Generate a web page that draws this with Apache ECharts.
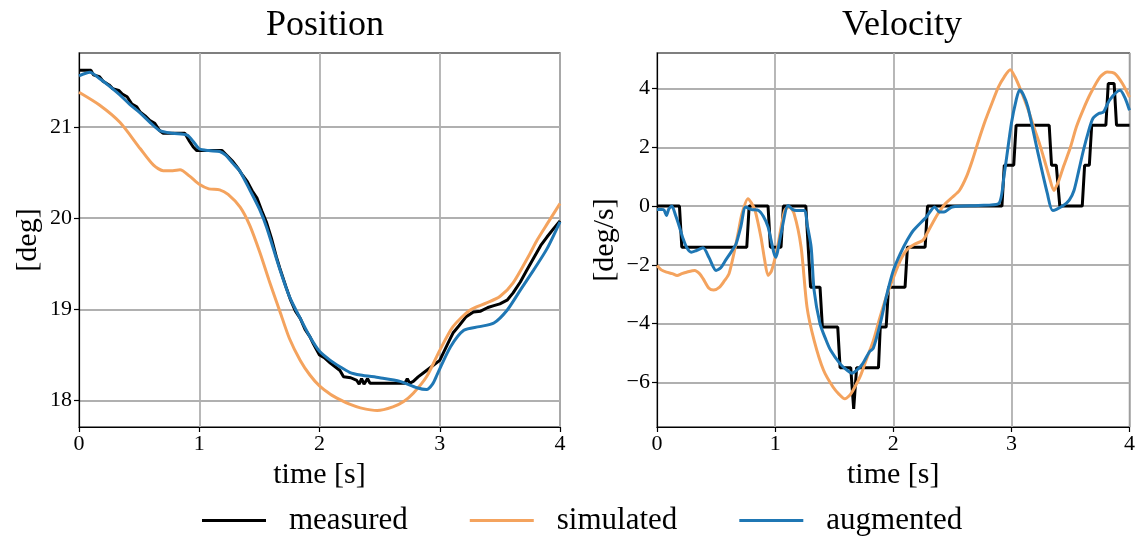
<!DOCTYPE html>
<html>
<head>
<meta charset="utf-8">
<title>Position and Velocity</title>
<script src="https://cdn.jsdelivr.net/npm/echarts@6/dist/echarts.min.js"></script>
<style>
  html, body { margin: 0; padding: 0; background: #fff; }
  #chart { width: 1138px; height: 538px; }
</style>
</head>
<body>
<div id="chart"></div>
<script>
// Tick values for the shared time axis and the two value axes
const timeTicks = [0, 1, 2, 3, 4];
const posTicks = [18, 19, 20, 21];
const velTicks = [-6, -4, -2, 0, 2, 4];

// Position [deg] over time [s]
const posMeasured = [
  [0, 21.62], [0.1, 21.62], [0.12, 21.57], [0.17, 21.55], [0.2, 21.5], [0.25, 21.46], [0.28, 21.42],
  [0.33, 21.4], [0.36, 21.36], [0.4, 21.33], [0.44, 21.25], [0.48, 21.22], [0.51, 21.16], [0.55, 21.12],
  [0.59, 21.07], [0.63, 21.04], [0.67, 20.96], [0.7, 20.93], [0.88, 20.93], [0.92, 20.84], [0.95, 20.78],
  [0.98, 20.74], [1.19, 20.74], [1.22, 20.7], [1.28, 20.62], [1.32, 20.55], [1.36, 20.47], [1.4, 20.4],
  [1.44, 20.3], [1.48, 20.22], [1.52, 20.08], [1.56, 19.95], [1.6, 19.78], [1.64, 19.58], [1.67, 19.45],
  [1.72, 19.25], [1.76, 19.1], [1.8, 18.98], [1.84, 18.9], [1.88, 18.78], [1.92, 18.7], [1.95, 18.62],
  [2.0, 18.5], [2.04, 18.47], [2.09, 18.41], [2.13, 18.37], [2.17, 18.33], [2.2, 18.26], [2.26, 18.25],
  [2.31, 18.22], [2.33, 18.18], [2.35, 18.24], [2.37, 18.18], [2.4, 18.24], [2.42, 18.19], [2.71, 18.19],
  [2.73, 18.24], [2.75, 18.19], [2.78, 18.21], [2.82, 18.26], [2.86, 18.3], [2.92, 18.36], [2.96, 18.4],
  [3.0, 18.44], [3.04, 18.55], [3.08, 18.66], [3.11, 18.74], [3.16, 18.82], [3.22, 18.92], [3.28, 18.97],
  [3.34, 18.98], [3.4, 19.02], [3.45, 19.04], [3.5, 19.06], [3.56, 19.1], [3.61, 19.18], [3.67, 19.3],
  [3.72, 19.42], [3.78, 19.56], [3.84, 19.7], [3.89, 19.79], [3.95, 19.89], [4.0, 19.97]
];
const posSimulated = [
  [0, 21.38], [0.17, 21.24], [0.34, 21.05], [0.51, 20.76], [0.62, 20.58], [0.7, 20.52], [0.78, 20.52],
  [0.84, 20.53], [0.92, 20.46], [1.0, 20.37], [1.08, 20.32], [1.17, 20.31], [1.24, 20.26], [1.34, 20.12],
  [1.42, 19.92], [1.505, 19.62], [1.58, 19.32], [1.67, 18.98], [1.75, 18.68], [1.84, 18.44], [1.92, 18.28],
  [2.0, 18.16], [2.09, 18.07], [2.17, 18.01], [2.25, 17.96], [2.34, 17.92], [2.48, 17.89], [2.61, 17.93],
  [2.7, 17.99], [2.78, 18.08], [2.89, 18.26], [3.0, 18.55], [3.11, 18.81], [3.25, 18.99], [3.39, 19.07],
  [3.5, 19.14], [3.61, 19.29], [3.75, 19.61], [3.81, 19.76], [3.9, 19.95], [4.0, 20.16]
];
const posAugmented = [
  [0, 21.56], [0.09, 21.6], [0.17, 21.53], [0.25, 21.45], [0.34, 21.35], [0.42, 21.25], [0.51, 21.15],
  [0.59, 21.05], [0.67, 20.96], [0.78, 20.93], [0.9, 20.91], [0.95, 20.84], [1.0, 20.76], [1.08, 20.74],
  [1.17, 20.73], [1.22, 20.69], [1.28, 20.6], [1.34, 20.51], [1.42, 20.31], [1.5, 20.1], [1.56, 19.9],
  [1.67, 19.44], [1.75, 19.14], [1.84, 18.9], [1.92, 18.7], [2.0, 18.54], [2.09, 18.44], [2.17, 18.37],
  [2.25, 18.31], [2.34, 18.28], [2.5, 18.25], [2.67, 18.21], [2.81, 18.14], [2.89, 18.12], [2.94, 18.18],
  [2.98, 18.29], [3.09, 18.59], [3.2, 18.77], [3.33, 18.81], [3.45, 18.85], [3.56, 18.99], [3.67, 19.21],
  [3.78, 19.43], [3.89, 19.66], [4.0, 19.96]
];

// Velocity [deg/s] over time [s]
const velMeasured = [
  [0, 0], [0.19, 0], [0.21, -1.4], [0.76, -1.4], [0.78, 0], [0.94, 0], [0.96, -1.4], [1.05, -1.4],
  [1.07, 0], [1.26, 0], [1.28, -1.4], [1.3, -2.76], [1.38, -2.76], [1.4, -4.12], [1.53, -4.12],
  [1.55, -5.5], [1.64, -5.5], [1.665, -6.9], [1.69, -5.5], [1.875, -5.5], [1.89, -4.12], [1.94, -4.12],
  [1.96, -2.76], [2.1, -2.76], [2.12, -1.4], [2.27, -1.4], [2.29, 0], [2.92, 0], [2.94, 1.39],
  [3.02, 1.39], [3.04, 2.75], [3.32, 2.75], [3.34, 1.39], [3.38, 1.39], [3.41, 0], [3.6, 0],
  [3.62, 1.39], [3.66, 1.39], [3.68, 2.75], [3.8, 2.75], [3.82, 4.17], [3.87, 4.17], [3.89, 2.75],
  [4.0, 2.75]
];
const velSimulated = [
  [0, -2.02], [0.04, -2.18], [0.08, -2.25], [0.13, -2.3], [0.17, -2.36], [0.21, -2.3], [0.25, -2.25],
  [0.32, -2.19], [0.36, -2.3], [0.39, -2.47], [0.44, -2.8], [0.48, -2.86], [0.53, -2.76], [0.57, -2.55],
  [0.61, -2.3], [0.66, -1.45], [0.69, -0.85], [0.72, -0.25], [0.77, 0.25], [0.8, 0.1], [0.83, -0.15],
  [0.88, -1.06], [0.91, -1.8], [0.94, -2.36], [0.97, -2.2], [1.02, -1.4], [1.08, -0.15], [1.12, -0.03],
  [1.16, -0.25], [1.22, -1.4], [1.27, -3.44], [1.33, -4.57], [1.41, -5.59], [1.49, -6.16], [1.54, -6.4],
  [1.59, -6.56], [1.63, -6.45], [1.66, -6.27], [1.72, -5.8], [1.77, -5.25], [1.83, -4.6], [1.88, -3.89],
  [1.94, -3.1], [2.0, -2.45], [2.06, -1.85], [2.11, -1.51], [2.18, -1.3], [2.25, -1.17], [2.29, -0.9],
  [2.33, -0.6], [2.38, -0.25], [2.44, 0.08], [2.5, 0.3], [2.56, 0.53], [2.62, 1.0], [2.67, 1.56],
  [2.72, 2.2], [2.78, 2.92], [2.84, 3.55], [2.89, 4.05], [2.94, 4.4], [2.99, 4.64], [3.03, 4.4],
  [3.08, 3.94], [3.14, 3.3], [3.19, 2.69], [3.24, 2.1], [3.28, 1.56], [3.32, 1.0], [3.36, 0.53],
  [3.4, 0.85], [3.44, 1.33], [3.5, 2.0], [3.55, 2.69], [3.61, 3.3], [3.67, 3.83], [3.75, 4.39],
  [3.81, 4.56], [3.875, 4.51], [3.94, 4.17], [4.0, 3.71]
];
const velAugmented = [
  [0, -0.12], [0.04, -0.12], [0.06, -0.14], [0.08, -0.32], [0.1, -0.1], [0.125, 0.0], [0.16, -0.35],
  [0.19, -0.71], [0.22, -1.1], [0.25, -1.4], [0.29, -1.57], [0.33, -1.52], [0.39, -1.42], [0.44, -1.75],
  [0.5, -2.19], [0.54, -2.1], [0.58, -1.85], [0.63, -1.55], [0.67, -1.28], [0.71, -0.7], [0.75, -0.03],
  [0.8, -0.12], [0.86, -0.15], [0.9, -0.35], [0.94, -0.71], [1.005, -1.74], [1.05, -0.94], [1.11, 0.02],
  [1.15, -0.12], [1.18, -0.15], [1.25, -0.15], [1.27, -0.6], [1.305, -1.4], [1.33, -2.87], [1.38, -4.0],
  [1.43, -4.55], [1.47, -4.91], [1.55, -5.37], [1.61, -5.59], [1.65, -5.69], [1.7, -5.55], [1.74, -5.37],
  [1.8, -4.95], [1.83, -4.85], [1.89, -4.0], [1.94, -3.1], [2.0, -2.2], [2.06, -1.62], [2.12, -1.15],
  [2.17, -0.83], [2.28, -0.37], [2.35, -0.03], [2.39, -0.2], [2.43, -0.2], [2.5, -0.03], [2.72, 0.02],
  [2.89, 0.08], [2.94, 1.1], [3.0, 2.81], [3.04, 3.6], [3.07, 3.96], [3.1, 3.8], [3.14, 3.37],
  [3.22, 1.9], [3.305, 0.42], [3.35, -0.15], [3.44, 0.02], [3.49, 0.2], [3.53, 0.53], [3.57, 1.2],
  [3.61, 1.9], [3.65, 2.5], [3.69, 2.98], [3.74, 3.15], [3.78, 3.2], [3.83, 3.6], [3.92, 3.94],
  [3.96, 3.7], [4.0, 3.26]
];

const FONT = 'Liberation Serif';
const COLORS = { measured: '#000000', simulated: '#f4a35e', augmented: '#1f77b4' };
const minus = v => String(v).replace('-', '\u2212');

function xAxisFor(gridIndex) {
  return {
    type: 'value', gridIndex, min: 0, max: 4, interval: 1,
    name: 'time [s]', nameLocation: 'middle', nameGap: 29,
    nameTextStyle: { fontFamily: FONT, fontSize: 30, color: '#000' },
    axisLine: { show: true, onZero: false, lineStyle: { color: '#000', width: 1.2 } },
    axisTick: { show: true, length: 5, customValues: timeTicks, lineStyle: { color: '#000', width: 1.2 } },
    axisLabel: { margin: 6, customValues: timeTicks, fontFamily: FONT, fontSize: 22, color: '#000', formatter: minus },
    splitLine: { show: true, lineStyle: { color: '#b0b0b0', width: 1.8 } }
  };
}

function yAxisFor(gridIndex, min, max, ticks, name, gap) {
  return {
    type: 'value', gridIndex, min, max,
    name, nameLocation: 'middle', nameGap: gap, nameRotate: 90,
    nameTextStyle: { fontFamily: FONT, fontSize: 30, color: '#000' },
    axisLine: { show: true, onZero: false, lineStyle: { color: '#000', width: 1.2 } },
    axisTick: { show: true, length: 5, customValues: ticks, lineStyle: { color: '#000', width: 1.2 } },
    axisLabel: { margin: 7, customValues: ticks, fontFamily: FONT, fontSize: 22, color: '#000', formatter: minus },
    splitLine: { show: true, lineStyle: { color: '#b0b0b0', width: 1.8 } }
  };
}

function lineSeries(name, data, idx, smooth) {
  return {
    name, type: 'line', data, xAxisIndex: idx, yAxisIndex: idx,
    showSymbol: false, smooth: smooth ? 0.25 : false,
    lineStyle: { color: COLORS[name], width: 3 },
    itemStyle: { color: COLORS[name] },
    z: name === 'augmented' ? 4 : (name === 'simulated' ? 3 : 2)
  };
}

const chart = echarts.init(document.getElementById('chart'), null, { renderer: 'canvas' });
chart.setOption({
  animation: false,
  backgroundColor: '#fff',
  title: [
    { text: 'Position', left: 320, top: 3, textAlign: 'center',
      textStyle: { fontFamily: FONT, fontSize: 36, fontWeight: 'normal', color: '#000' } },
    { text: 'Velocity', left: 897, top: 3, textAlign: 'center',
      textStyle: { fontFamily: FONT, fontSize: 36, fontWeight: 'normal', color: '#000' } }
  ],
  grid: [
    { left: 79, top: 53, width: 481, height: 374, show: true, borderColor: '#000', borderWidth: 1.2, backgroundColor: 'transparent' },
    { left: 657, top: 53, width: 480, height: 374, show: true, borderColor: '#000', borderWidth: 1.2, backgroundColor: 'transparent' }
  ],
  xAxis: [xAxisFor(0), xAxisFor(1)],
  yAxis: [
    yAxisFor(0, 17.71, 21.81, posTicks, '[deg]', 36),
    yAxisFor(1, -7.52, 5.21, velTicks, '[deg/s]', 37)
  ],
  legend: {
    data: ['measured', 'simulated', 'augmented'],
    left: 197, top: 500,
    icon: 'rect', itemWidth: 64, itemHeight: 3, itemGap: 62,
    textStyle: { fontFamily: FONT, fontSize: 31, color: '#000', padding: [0, 0, 0, 18] }
  },
  series: [
    lineSeries('measured', posMeasured, 0, false),
    lineSeries('simulated', posSimulated, 0, true),
    lineSeries('augmented', posAugmented, 0, true),
    lineSeries('measured', velMeasured, 1, false),
    lineSeries('simulated', velSimulated, 1, true),
    lineSeries('augmented', velAugmented, 1, true)
  ]
});
</script>
</body>
</html>
